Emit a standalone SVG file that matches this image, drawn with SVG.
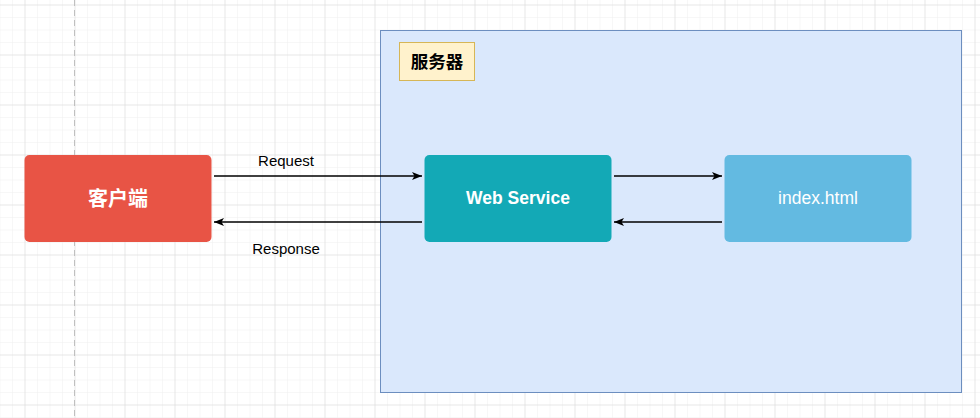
<svg xmlns="http://www.w3.org/2000/svg" width="980" height="418" viewBox="0 0 980 418">
<defs>
<pattern id="minor" x="24.5" y="4.5" width="12.5" height="12.5" patternUnits="userSpaceOnUse">
<path d="M0 0H12.5M0 0V12.5" fill="none" stroke="#f0f0f0" stroke-width="1"/>
</pattern>
<pattern id="major" x="24.5" y="4.5" width="50" height="50" patternUnits="userSpaceOnUse">
<path d="M0 0H50M0 0V50" fill="none" stroke="#d9d9d9" stroke-width="1"/>
</pattern>
<marker id="arr" viewBox="0 0 10 8" refX="10" refY="4" markerWidth="10" markerHeight="8" markerUnits="userSpaceOnUse" orient="auto">
<path d="M0 0L10 4L0 8L2.5 4Z" fill="#000"/>
</marker>
</defs>
<style>
.lbl{font-family:"Liberation Sans",Arial,sans-serif;font-size:15px;fill:#000;text-anchor:middle}
.cn{font-family:"Liberation Sans","Noto Sans CJK SC",sans-serif;font-weight:bold;text-anchor:middle;dominant-baseline:central}
.en{font-family:"Liberation Sans",Arial,sans-serif;font-size:17.5px;fill:#fff;text-anchor:middle;dominant-baseline:central}
.edge{stroke:#000;stroke-width:1.3;fill:none;marker-end:url(#arr)}
</style>
<rect width="980" height="418" fill="#fff"/>
<rect width="980" height="418" fill="url(#minor)"/>
<rect width="980" height="418" fill="url(#major)"/>
<line x1="74.5" y1="0" x2="74.5" y2="418" stroke="#c0c0c0" stroke-width="1" stroke-dasharray="6 4"/>
<g id="server">
<rect x="380.5" y="30.5" width="581" height="362" fill="#dae8fc" stroke="#6c8ebf" stroke-width="1"/>
</g>
<g id="server-label">
<rect x="399.5" y="42.5" width="75" height="38" fill="#fff2cc" stroke="#d6b656" stroke-width="1"/>
<text x="437" y="61.5" class="cn" font-size="17.5" fill="#000">服务器</text>
</g>
<g id="client">
<rect x="24.5" y="155" width="187" height="87" rx="5" fill="#e85445"/>
<text x="118" y="199" class="cn" font-size="20" fill="#fff">客户端</text>
</g>
<g id="webservice">
<rect x="424.5" y="155" width="187" height="87" rx="5" fill="#13a9b6"/>
<text x="518" y="198" class="en" font-weight="bold">Web Service</text>
</g>
<g id="index">
<rect x="724.5" y="155" width="187" height="87" rx="5" fill="#63bae1"/>
<text x="818" y="198" class="en">index.html</text>
</g>
<g id="connectors">
<line class="edge" x1="214" y1="176" x2="422" y2="176"/>
<line class="edge" x1="422" y1="222" x2="214" y2="222"/>
<line class="edge" x1="614" y1="176" x2="722" y2="176"/>
<line class="edge" x1="722" y1="222" x2="614" y2="222"/>
<text x="286" y="166" class="lbl">Request</text>
<text x="286" y="254" class="lbl">Response</text>
</g>
</svg>
